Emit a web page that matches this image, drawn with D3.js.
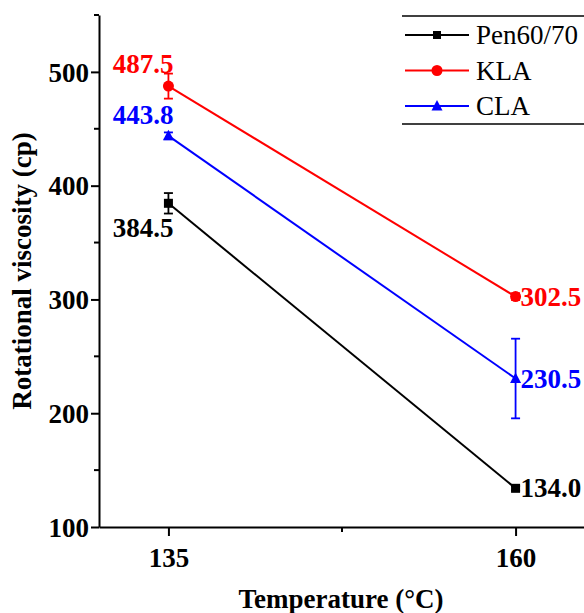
<!DOCTYPE html>
<html>
<head>
<meta charset="utf-8">
<script src="https://cdn.jsdelivr.net/npm/d3@7"></script>
<style>
  body { margin: 0; background: #fff; }
  svg { display: block; font-family: "Times New Roman", "Liberation Serif", serif; }
</style>
</head>
<body>
<div id="chart"></div>
<script>
// data
const temps = [135, 160];
const seriesNames = ["Pen60/70", "KLA", "CLA"];
const seriesColors = ["#000000", "#ff0000", "#0000ff"];
const seriesShapes = ["square", "circle", "triangle"];
const penValues = [384.5, 134.0];
const klaValues = [487.5, 302.5];
const claValues = [443.8, 230.5];
const penErrors = [9, 2];
const klaErrors = [11, 3];
const claErrors = [3, 35];
const yMajorTicks = [100, 200, 300, 400, 500];
const yMinorTicks = [150, 250, 350, 450, 550];
const xMajorTicks = [135, 160];
const xMinorTicks = [147.5];

const valuesBySeries = [penValues, klaValues, claValues];
const errorsBySeries = [penErrors, klaErrors, claErrors];

const width = 584, height = 613;
const m = { top: 15, left: 99, bottom: 86 };
const svg = d3.select("#chart").append("svg")
    .attr("width", width)
    .attr("height", height);

const x = d3.scaleLinear().domain([130, 165]).range([m.left, 585]);
const y = d3.scaleLinear().domain([100, 550]).range([height - m.bottom, m.top]);

const axisColor = "#000";
const fontSize = 27;

// axes
const xAxis = svg.append("g").attr("transform", `translate(0,${y(100)})`)
    .call(d3.axisBottom(x).tickValues(xMajorTicks).tickSize(9).tickSizeOuter(0).tickFormat(d3.format("d")));
xAxis.append("g").selectAll("line").data(xMinorTicks).join("line")
    .attr("x1", d => x(d)).attr("x2", d => x(d)).attr("y1", 0).attr("y2", 5);

const yAxis = svg.append("g").attr("transform", `translate(${m.left},0)`)
    .call(d3.axisLeft(y).tickValues(yMajorTicks).tickSize(8).tickSizeOuter(0).tickFormat(d3.format("d")));
yAxis.append("g").selectAll("line").data(yMinorTicks).join("line")
    .attr("x1", 0).attr("x2", -5).attr("y1", d => y(d)).attr("y2", d => y(d));

[xAxis, yAxis].forEach(g => {
  g.select(".domain").attr("stroke", axisColor).attr("stroke-width", 2);
  g.selectAll("line").attr("stroke", axisColor).attr("stroke-width", 2);
  g.selectAll("text").attr("font-family", "'Times New Roman','Liberation Serif',serif")
    .attr("font-size", fontSize).attr("font-weight", "bold").attr("fill", "#000");
});
xAxis.selectAll(".tick text").attr("dy", "1.05em");
yAxis.selectAll(".tick text").attr("dy", "0.34em").attr("x", -10);

// axis titles
svg.append("text")
    .attr("x", 341).attr("y", 608)
    .attr("text-anchor", "middle")
    .attr("font-size", fontSize).attr("font-weight", "bold")
    .text("Temperature (°C)");
svg.append("text")
    .attr("transform", `translate(31,${(y(100) + y(550)) / 2}) rotate(-90)`)
    .attr("text-anchor", "middle")
    .attr("font-size", fontSize).attr("font-weight", "bold")
    .text("Rotational viscosity (cp)");

// marker drawing
function marker(g, shape, cx, cy, color) {
  if (shape === "square") {
    g.append("rect").attr("x", cx - 4.5).attr("y", cy - 4.5).attr("width", 9).attr("height", 9).attr("fill", color);
  } else if (shape === "circle") {
    g.append("circle").attr("cx", cx).attr("cy", cy).attr("r", 5.5).attr("fill", color);
  } else {
    g.append("path").attr("d", `M${cx},${cy - 6}L${cx + 5.5},${cy + 4.5}L${cx - 5.5},${cy + 4.5}Z`).attr("fill", color);
  }
}

const line = d3.line().x((d, i) => x(temps[i])).y(d => y(d));

// left label offsets (relative to the point)
const leftLabelDy = [34, -13, -12];

valuesBySeries.forEach((vals, s) => {
  const color = seriesColors[s];
  const g = svg.append("g");
  g.append("path").datum(vals).attr("d", line)
    .attr("fill", "none").attr("stroke", color).attr("stroke-width", 2);

  vals.forEach((v, i) => {
    const cx = x(temps[i]);
    const e = errorsBySeries[s][i];
    const y0 = y(v - e), y1 = y(v + e);
    g.append("line").attr("x1", cx).attr("x2", cx).attr("y1", y0).attr("y2", y1)
      .attr("stroke", color).attr("stroke-width", 1.8);
    [y0, y1].forEach(yy => g.append("line")
      .attr("x1", cx - 4.5).attr("x2", cx + 4.5).attr("y1", yy).attr("y2", yy)
      .attr("stroke", color).attr("stroke-width", 1.8));
    marker(g, seriesShapes[s], cx, y(v), color);

    const t = g.append("text")
      .attr("fill", color).attr("font-size", fontSize).attr("font-weight", "bold")
      .text(d3.format(".1f")(v));
    if (i === 0) {
      t.attr("x", cx + 5).attr("y", y(v) + leftLabelDy[s]).attr("text-anchor", "end");
    } else {
      t.attr("x", cx + 5).attr("y", y(v) + 9).attr("text-anchor", "start");
    }
  });
});

// legend
const lg = svg.append("g");
lg.append("line").attr("x1", 402).attr("x2", width).attr("y1", 16).attr("y2", 16).attr("stroke", "#000").attr("stroke-width", 1.3);
lg.append("line").attr("x1", 402).attr("x2", width).attr("y1", 124).attr("y2", 124).attr("stroke", "#000").attr("stroke-width", 1.3);
seriesNames.forEach((name, s) => {
  const ry = 35 + s * 35.5;
  lg.append("line").attr("x1", 405).attr("x2", 469).attr("y1", ry).attr("y2", ry)
    .attr("stroke", seriesColors[s]).attr("stroke-width", 2);
  const mg = lg.append("g");
  if (seriesShapes[s] === "square") {
    mg.append("rect").attr("x", 433).attr("y", ry - 4).attr("width", 8).attr("height", 8).attr("fill", seriesColors[s]);
  } else {
    marker(mg, seriesShapes[s], 437, ry, seriesColors[s]);
  }
  lg.append("text").attr("x", 476).attr("y", ry + 9)
    .attr("font-size", fontSize).attr("fill", "#000")
    .text(name);
});
</script>
</body>
</html>
